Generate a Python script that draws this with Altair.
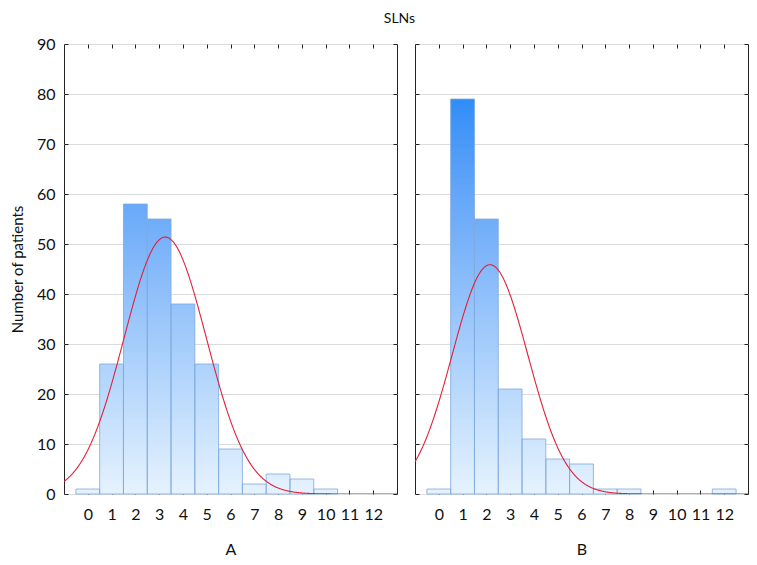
import altair as alt
import pandas as pd
import numpy as np

# ---- data ----
values = list(range(13))                      # number of SLNs (bin centres)
counts_a = [1, 26, 58, 55, 38, 26, 9, 2, 4, 3, 1, 0, 0]
counts_b = [1, 79, 55, 21, 11, 7, 6, 1, 1, 0, 0, 0, 1]
panel_labels = ["A", "B"]
y_ticks = list(range(0, 91, 10))
x_ticks = values
title_text = "SLNs"
y_title = "Number of patients"

FONT = "Lato"
x_scale = alt.Scale(domain=[-1, 13], nice=False, zero=False)
y_scale = alt.Scale(domain=[0, 90], nice=False)


def normal_fit(counts):
    v = np.array(values, dtype=float)
    c = np.array(counts, dtype=float)
    n = c.sum()
    mean = (v * c).sum() / n
    sd = np.sqrt((c * (v - mean) ** 2).sum() / n)
    return n, mean, sd


def panel(counts, label, show_y):
    # bars split into thin horizontal bands so the fill shades with height
    rows = []
    for v, n in zip(values, counts):
        k = 0.0
        while k < n:
            top = min(k + 0.5, n)
            drawn_top = min(k + 0.65, n)
            rows.append({"x0": v - 0.5, "x1": v + 0.5, "y0": k, "y1": drawn_top, "ym": (k + top) / 2})
            k += 0.5
    bands = pd.DataFrame(rows)
    bars = pd.DataFrame({"v": values, "n": counts})
    bars = bars[bars.n > 0].copy()
    bars["x0"] = bars.v - 0.5
    bars["x1"] = bars.v + 0.5

    x_axis = alt.Axis(orient="bottom", values=x_ticks, format="d", offset=-4, tickSize=4,
                      tickColor="#222", domain=False, grid=False, labelPadding=12,
                      labelFontSize=16, labelFont=FONT, labelColor="#111",
                      title=label, titleFont=FONT, titleFontSize=16, titleFontWeight="normal",
                      titleColor="#111", titlePadding=19)
    y_axis = alt.Axis(orient="left", values=y_ticks, format="d", offset=-4, tickSize=4,
                      tickColor="#222", domain=False, grid=True, gridColor="#dcdcdc",
                      labels=show_y, labelPadding=9, labelFontSize=16, labelFont=FONT,
                      labelColor="#111",
                      title=y_title if show_y else "", titleFont=FONT, titleFontSize=15,
                      titleFontWeight="normal", titleColor="#111", titlePadding=11)

    band_layer = alt.Chart(bands).mark_rect(strokeWidth=0).encode(
        x=alt.X("x0:Q", scale=x_scale, axis=x_axis),
        x2="x1:Q",
        y=alt.Y("y0:Q", scale=y_scale, axis=y_axis),
        y2="y1:Q",
        color=alt.Color("ym:Q", scale=alt.Scale(domain=[0, 80], range=["#e6f2fe", "#2a8cf6"],
                                                 clamp=True), legend=None),
    )
    outline = alt.Chart(bars).mark_rect(fill=None, fillOpacity=0, stroke="#7eaade",
                                        strokeWidth=0.8).encode(
        x=alt.X("x0:Q", scale=x_scale, axis=None),
        x2="x1:Q",
        y=alt.Y("n:Q", scale=y_scale, axis=None),
        y2=alt.datum(0),
    )
    n, mean, sd = normal_fit(counts)
    expr = f"{n} / ({sd} * sqrt(2 * PI)) * exp(-0.5 * pow((datum.x - {mean}) / {sd}, 2))"
    top_axis = alt.Axis(orient="top", values=x_ticks, offset=-4, tickSize=4, tickColor="#222",
                        domain=False, grid=False, labels=False, title="")
    right_axis = alt.Axis(orient="right", values=y_ticks, offset=-4, tickSize=4, tickColor="#222",
                          domain=False, grid=False, labels=False, title="")
    curve = alt.Chart(alt.sequence(-1, 13.001, 0.02, as_="x")).transform_calculate(
        y=expr
    ).mark_line(color="#e3203a", strokeWidth=1.1, clip=True).encode(
        x=alt.X("x:Q", scale=x_scale, axis=top_axis),
        y=alt.Y("y:Q", scale=y_scale, axis=right_axis),
    )
    return alt.layer(band_layer, outline, curve).resolve_axis(
        x="independent", y="independent"
    ).properties(width=333, height=450)


chart = alt.hconcat(
    panel(counts_a, panel_labels[0], True),
    panel(counts_b, panel_labels[1], False),
    spacing=16,
).properties(
    title=alt.TitleParams(title_text, font=FONT, fontSize=14, fontWeight="normal",
                          color="#111", anchor="middle", offset=10, dx=20),
    padding={"left": 1, "top": 3, "right": 0, "bottom": 0},
).configure_view(stroke="#222", strokeWidth=1)

chart.save("out.html", embed_options={"renderer": "svg", "actions": False})
